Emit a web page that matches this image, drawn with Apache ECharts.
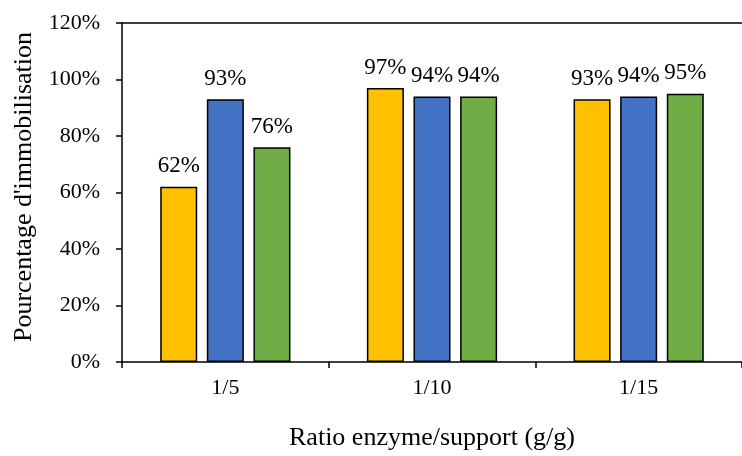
<!DOCTYPE html>
<html>
<head>
<meta charset="utf-8">
<script src="https://cdn.jsdelivr.net/npm/echarts@6/dist/echarts.min.js"></script>
<style>html,body{margin:0;padding:0;background:#fff;}#c{width:742px;height:456px;}</style>
</head>
<body>
<div id="c"></div>
<script>
var categories = ['1/5', '1/10', '1/15'];
var seriesA = [62, 97, 93];
var seriesB = [93, 94, 94];
var seriesC = [76, 94, 95];
var yTicks = [0, 20, 40, 60, 80, 100, 120];

var FONT = '"Liberation Serif", "Times New Roman", serif';
var colors = ['#FFC000', '#4472C4', '#70AD47'];

function mkSeries(name, data, color) {
  return {
    name: name,
    type: 'bar',
    data: data,
    barWidth: 37,
    barGap: '26%',
    itemStyle: { color: color, borderColor: '#000', borderWidth: 1.5 },
    label: {
      show: true, position: 'top', distance: 9,
      formatter: function (p) { return p.value + '%'; },
      fontFamily: FONT, fontSize: 23, color: '#000'
    }
  };
}

var chart = echarts.init(document.getElementById('c'));
chart.setOption({
  animation: false,
  backgroundColor: '#fff',
  grid: { left: 122, top: 23, right: -10, bottom: 91, containLabel: false },
  xAxis: [{
    type: 'category',
    data: categories,
    name: 'Ratio enzyme/support (g/g)',
    nameLocation: 'middle',
    nameGap: 63,
    nameTextStyle: { fontFamily: FONT, fontSize: 26, color: '#000' },
    axisLine: { lineStyle: { color: '#000', width: 1.5 } },
    axisTick: { show: true, length: 6, lineStyle: { color: '#000', width: 1.5 } },
    axisLabel: { fontFamily: FONT, fontSize: 22, color: '#000', margin: 15 }
  }, {
    type: 'category',
    data: categories,
    position: 'top',
    axisLine: { lineStyle: { color: '#000', width: 1.5 } },
    axisTick: { show: false },
    axisLabel: { show: false }
  }],
  yAxis: {
    type: 'value',
    min: yTicks[0], max: yTicks[yTicks.length - 1], interval: 20,
    axisLine: { show: true, lineStyle: { color: '#000', width: 1.5 } },
    axisTick: { show: true, length: 6, lineStyle: { color: '#000', width: 1.5 } },
    axisLabel: { fontFamily: FONT, fontSize: 22, color: '#000', margin: 22,
      formatter: function (v) { return v + '%'; } },
    splitLine: { show: false }
  },
  graphic: [{
    type: 'text',
    x: 24, y: 187,
    rotation: Math.PI / 2,
    style: { text: "Pourcentage d'immobilisation", font: '26px ' + FONT, fill: '#000',
      textAlign: 'center', textVerticalAlign: 'middle' }
  }],
  series: [
    mkSeries('A', seriesA, colors[0]),
    mkSeries('B', seriesB, colors[1]),
    mkSeries('C', seriesC, colors[2])
  ]
});
</script>
</body>
</html>
